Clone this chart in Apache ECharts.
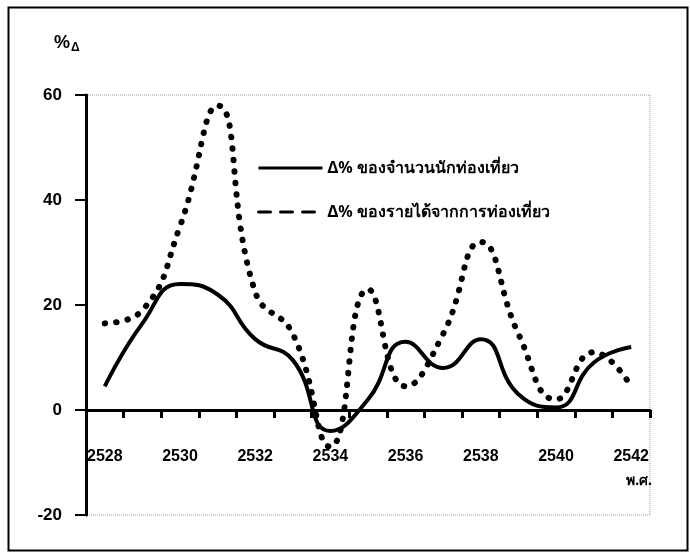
<!DOCTYPE html>
<html>
<head>
<meta charset="utf-8">
<script src="https://cdn.jsdelivr.net/npm/echarts@6/dist/echarts.min.js"></script>
<style>
html,body{margin:0;padding:0;background:#fff;}
#c{width:690px;height:553px;}
</style>
</head>
<body>
<div id="c"></div>
<script>
const years = ['2528','2529','2530','2531','2532','2533','2534','2535','2536','2537','2538','2539','2540','2541','2542'];
const visitorsChange = [4.5, 16.5, 24, 22, 13.5, 9.5, -4, 2, 13, 8, 13.5, 3, 0.5, 9, 12];
const revenueChange = [16.5, 19, 35, 58, 22.5, 14.5, -7, 23, 4.5, 14.5, 32, 14.5, 2, 11, 4.5];
const yTicks = [-20, 0, 20, 40, 60];
const seriesNames = ['Δ% ของจำนวนนักท่องเที่ยว', 'Δ% ของรายได้จากการท่องเที่ยว'];
const axisUnit = 'พ.ศ.';

const chart = echarts.init(document.getElementById('c'), null, {renderer: 'canvas'});
const labelFont = {color: '#000', fontWeight: 'bold', fontSize: 16, fontFamily: 'Liberation Sans, Arial, sans-serif'};

chart.setOption({
  backgroundColor: '#fff',
  animation: false,
  color: ['#000', '#000'],
  grid: {
    left: 86, right: 40, top: 95, bottom: 38,
    show: true, borderColor: '#999', borderWidth: 1, borderType: 'dotted',
    backgroundColor: 'transparent'
  },
  legend: {
    orient: 'vertical',
    left: 252, top: 155,
    itemWidth: 64, itemHeight: 14, itemGap: 28,
    textStyle: {color: '#000', fontWeight: 'bold', fontSize: 16, fontFamily: 'Noto Sans, sans-serif'},
    data: [
      {name: seriesNames[0], itemStyle: {opacity: 0}, lineStyle: {width: 3, type: 'solid', color: '#000', opacity: 1}},
      {name: seriesNames[1], itemStyle: {opacity: 0}, lineStyle: {width: 3, type: [12, 10], color: '#000', opacity: 1}}
    ]
  },
  xAxis: [{
    type: 'category',
    data: years,
    boundaryGap: true,
    axisLine: {onZero: true, lineStyle: {color: '#000', width: 3}},
    axisTick: {show: true, interval: 0, length: 8, lineStyle: {color: '#000', width: 3}},
    axisLabel: {show: false},
    splitLine: {show: false}
  }, {
    type: 'category',
    data: years,
    boundaryGap: true,
    position: 'bottom',
    offset: -66,
    axisLine: {show: false},
    axisTick: {show: false},
    axisLabel: Object.assign({interval: 1, margin: 0}, labelFont),
    splitLine: {show: false}
  }],
  yAxis: {
    type: 'value',
    min: yTicks[0], max: yTicks[yTicks.length - 1], interval: 20,
    axisLine: {show: true, lineStyle: {color: '#000', width: 3}},
    axisTick: {show: true, length: 11, lineStyle: {color: '#000', width: 2}},
    axisLabel: Object.assign({margin: 24}, labelFont, {fontSize: 17}),
    splitLine: {show: false}
  },
  graphic: [
    {type: 'rect', left: 6, top: 5, shape: {width: 679, height: 543}, style: {fill: 'none', stroke: '#000', lineWidth: 2}, silent: true},
    {type: 'text', left: 54, top: 34, style: {rich: {a: {fontSize: 18, fontWeight: 'bold', fill: '#000', fontFamily: 'Liberation Sans, sans-serif'}, b: {fontSize: 12, fontWeight: 'bold', fill: '#000', padding: [10, 0, 0, 1]}}, text: '{a|%}{b|Δ}'}},
    {type: 'text', right: 38, top: 474, style: {text: axisUnit, fontSize: 14, fontWeight: 'bold', fill: '#000', fontFamily: 'Noto Sans, sans-serif'}}
  ],
  series: [
    {
      name: seriesNames[0], type: 'line', data: visitorsChange, smooth: true,
      symbol: 'none', itemStyle: {color: '#000'}, lineStyle: {color: '#000', width: 4}, z: 3
    },
    {
      name: seriesNames[1], type: 'line', data: revenueChange, smooth: true,
      symbol: 'none', itemStyle: {color: '#000'}, lineStyle: {color: '#000', width: 6, type: [0.5, 11], cap: 'round'}, z: 2
    }
  ]
});
</script>
</body>
</html>
